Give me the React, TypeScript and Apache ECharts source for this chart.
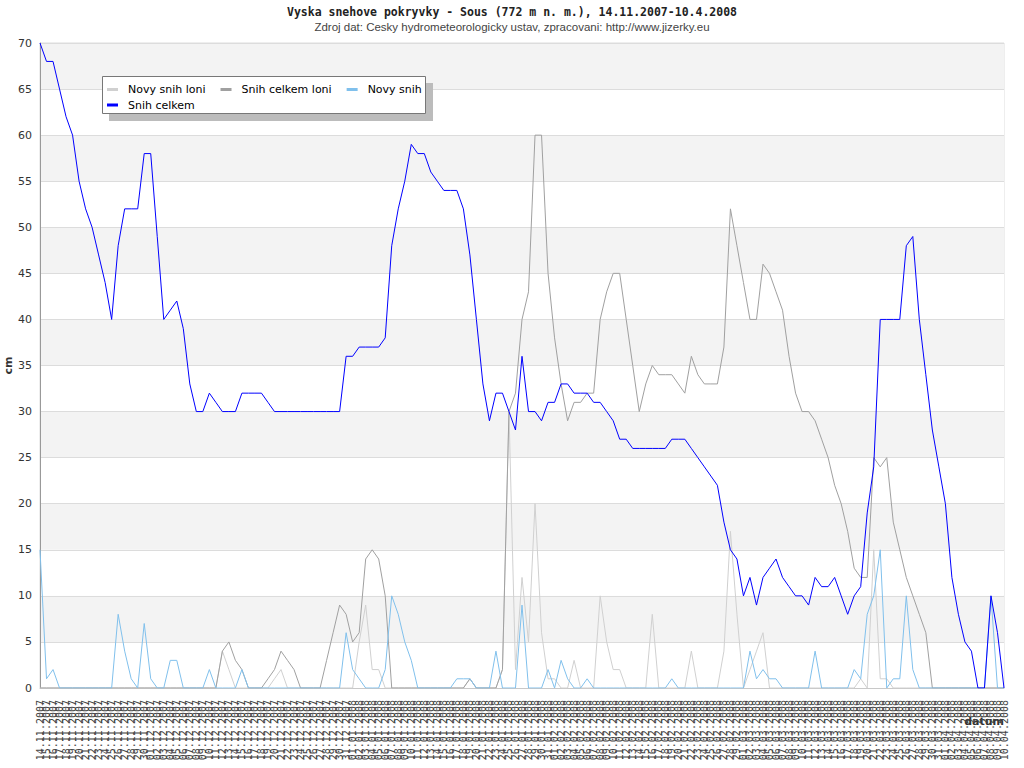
import React, { useEffect, useRef } from 'react';
import * as echarts from 'echarts';

const TITLE = 'Vyska snehove pokryvky - Sous (772 m n. m.), 14.11.2007-10.4.2008';
const SUBTITLE = 'Zdroj dat: Cesky hydrometeorologicky ustav, zpracovani: http://www.jizerky.eu';

// Category axis: consecutive days 14.11.2007 .. 10.4.2008
const FIRST_DAY = Date.UTC(2007, 10, 14);
const DAY_COUNT = 149;
const pad2 = (n: number) => (n < 10 ? '0' + n : '' + n);
const dates: string[] = [];
for (let i = 0; i < DAY_COUNT; i++) {
  const d = new Date(FIRST_DAY + i * 86400000);
  dates.push(pad2(d.getUTCDate()) + '.' + pad2(d.getUTCMonth() + 1) + '.' + d.getUTCFullYear());
}

// Snih celkem (cm)
const snihCelkem = [
  70, 68, 68, 65, 62, 60, 55, 52, 50, 47,
  44, 40, 48, 52, 52, 52, 58, 58, 49, 40,
  41, 42, 39, 33, 30, 30, 32, 31, 30, 30,
  30, 32, 32, 32, 32, 31, 30, 30, 30, 30,
  30, 30, 30, 30, 30, 30, 30, 36, 36, 37,
  37, 37, 37, 38, 48, 52, 55, 59, 58, 58,
  56, 55, 54, 54, 54, 52, 47, 40, 33, 29,
  32, 32, 30, 28, 36, 30, 30, 29, 31, 31,
  33, 33, 32, 32, 32, 31, 31, 30, 29, 27,
  27, 26, 26, 26, 26, 26, 26, 27, 27, 27,
  26, 25, 24, 23, 22, 18, 15, 14, 10, 12,
  9, 12, 13, 14, 12, 11, 10, 10, 9, 12,
  11, 11, 12, 10, 8, 10, 11, 19, 24, 40,
  40, 40, 40, 48, 49, 40, 34, 28, 24, 20,
  12, 8, 5, 4, 0, 0, 10, 6, 0,
];

// Snih celkem loni (cm)
const snihCelkemLoni = [
  0, 0, 0, 0, 0, 0, 0, 0, 0, 0,
  0, 0, 0, 0, 0, 0, 0, 0, 0, 0,
  0, 0, 0, 0, 0, 0, 0, 0, 4, 5,
  3, 2, 0, 0, 0, 1, 2, 4, 3, 2,
  0, 0, 0, 0, 3, 6, 9, 8, 5, 6,
  14, 15, 14, 10, 0, 0, 0, 0, 0, 0,
  0, 0, 0, 0, 0, 0, 1, 0, 0, 0,
  0, 2, 30, 32, 40, 43, 60, 60, 45, 38,
  33, 29, 31, 31, 32, 32, 40, 43, 45, 45,
  40, 35, 30, 33, 35, 34, 34, 34, 33, 32,
  36, 34, 33, 33, 33, 37, 52, 48, 44, 40,
  40, 46, 45, 43, 41, 36, 32, 30, 30, 29,
  27, 25, 22, 20, 17, 13, 12, 12, 25, 24,
  25, 18, 15, 12, 10, 8, 6, 0, 0, 0,
  0, 0, 0, 0, 0, 0, 0, 0, 0,
];

// Novy snih loni (cm)
const novySnihLoni = [
  0, 0, 0, 0, 0, 0, 0, 0, 0, 0,
  0, 0, 0, 0, 0, 0, 0, 0, 0, 0,
  0, 0, 0, 0, 0, 0, 0, 0, 4, 2,
  0, 0, 0, 0, 0, 0, 1, 2, 0, 0,
  0, 0, 0, 0, 0, 0, 0, 0, 0, 5,
  9, 2, 2, 0, 0, 0, 0, 0, 0, 0,
  0, 0, 0, 0, 0, 0, 1, 0, 0, 0,
  0, 2, 30, 2, 12, 5, 20, 6, 1, 1,
  0, 0, 3, 0, 0, 0, 10, 5, 2, 2,
  0, 0, 0, 0, 8, 0, 0, 0, 0, 0,
  4, 0, 0, 0, 0, 4, 17, 8, 0, 2,
  4, 6, 0, 0, 0, 0, 0, 0, 0, 0,
  0, 0, 0, 0, 0, 0, 1, 0, 15, 1,
  1, 0, 0, 0, 0, 0, 0, 0, 0, 0,
  0, 0, 0, 0, 0, 0, 0, 0, 0,
];

// Novy snih (cm)
const novySnih = [
  15, 1, 2, 0, 0, 0, 0, 0, 0, 0,
  0, 0, 8, 4, 1, 0, 7, 1, 0, 0,
  3, 3, 0, 0, 0, 0, 2, 0, 0, 0,
  0, 2, 0, 0, 0, 0, 0, 0, 0, 0,
  0, 0, 0, 0, 0, 0, 0, 6, 2, 1,
  0, 0, 0, 2, 10, 8, 5, 3, 0, 0,
  0, 0, 0, 0, 1, 1, 1, 0, 0, 0,
  4, 0, 0, 0, 9, 0, 0, 0, 2, 0,
  3, 1, 0, 0, 1, 0, 0, 0, 0, 0,
  0, 0, 0, 0, 0, 0, 0, 1, 0, 0,
  0, 0, 0, 0, 0, 0, 0, 0, 0, 4,
  1, 2, 1, 1, 0, 0, 0, 0, 0, 4,
  0, 0, 0, 0, 0, 2, 1, 8, 10, 15,
  0, 1, 1, 10, 2, 0, 0, 0, 0, 0,
  0, 0, 0, 0, 0, 0, 10, 0, 0,
];

const SERIES_NAMES = ['Novy snih loni', 'Snih celkem loni', 'Novy snih', 'Snih celkem'];
const SERIES_COLORS = ['#d0d0d0', '#a0a0a0', '#80c0ec', '#0000ff'];

export default function App() {
  const ref = useRef<HTMLDivElement>(null);

  useEffect(() => {
    if (!ref.current) return;
    const chart = echarts.init(ref.current, null, { renderer: 'svg' });
    const legendText = {
      fontFamily: 'DejaVu Sans',
      fontSize: 11,
      color: '#000',
      padding: [0, 0, 0, 5],
    };
    const seriesData = [novySnihLoni, snihCelkemLoni, novySnih, snihCelkem];
    chart.setOption({
      animation: false,
      backgroundColor: '#ffffff',
      title: {
        text: TITLE,
        subtext: SUBTITLE,
        left: 'center',
        top: 6,
        itemGap: 3,
        padding: 0,
        textStyle: {
          fontFamily: 'DejaVu Sans Mono',
          fontWeight: 'bold',
          fontSize: 11.5,
          color: '#222',
        },
        subtextStyle: {
          fontFamily: 'Liberation Sans',
          fontSize: 11.5,
          color: '#444',
        },
      },
      legend: [
        {
          data: SERIES_NAMES.slice(0, 3),
          left: 107,
          top: 84,
          padding: 0,
          itemGap: 15,
          itemWidth: 11,
          itemHeight: 3,
          icon: 'rect',
          orient: 'horizontal',
          textStyle: legendText,
          selectedMode: false,
        },
        {
          data: SERIES_NAMES.slice(3),
          left: 107,
          top: 99.5,
          padding: 0,
          itemWidth: 11,
          itemHeight: 3,
          icon: 'rect',
          textStyle: legendText,
          selectedMode: false,
        },
      ],
      graphic: [
        {
          type: 'rect',
          z: 3,
          shape: { x: 109, y: 83, width: 324, height: 38 },
          style: { fill: '#bcbcbc' },
        },
        {
          type: 'rect',
          z: 3,
          shape: { x: 102.5, y: 76.5, width: 323, height: 37 },
          style: { fill: '#ffffff', stroke: '#777777', lineWidth: 1 },
        },
      ],
      grid: {
        left: 40,
        right: 20,
        top: 43,
        bottom: 80,
        containLabel: false,
        outerBoundsMode: 'none',
        show: true,
        borderColor: '#dddddd',
        borderWidth: 1,
        backgroundColor: 'transparent',
      },
      xAxis: {
        type: 'category',
        data: dates,
        boundaryGap: false,
        name: 'datum',
        nameLocation: 'end',
        nameGap: 0,
        nameMoveOverlap: false,
        nameTextStyle: {
          fontFamily: 'DejaVu Sans',
          fontWeight: 'bold',
          fontSize: 11,
          color: '#333',
          align: 'right',
          verticalAlign: 'top',
          padding: [28, 0, 0, 0],
        },
        axisLine: { show: true, lineStyle: { color: '#c8c8c8', width: 1 } },
        axisTick: { show: false },
        splitLine: { show: false },
        axisLabel: {
          interval: 0,
          rotate: 90,
          margin: 12,
          fontFamily: 'DejaVu Sans Mono',
          fontSize: 10,
          color: '#444',
        },
      },
      yAxis: {
        type: 'value',
        min: 0,
        max: 70,
        interval: 5,
        name: 'cm',
        nameLocation: 'middle',
        nameGap: 26,
        nameMoveOverlap: false,
        nameTextStyle: {
          fontFamily: 'DejaVu Sans',
          fontWeight: 'bold',
          fontSize: 11,
          color: '#333',
        },
        axisLine: { show: true, lineStyle: { color: '#999999', width: 1 } },
        axisTick: { show: false },
        axisLabel: {
          margin: 8,
          fontFamily: 'DejaVu Sans',
          fontSize: 11,
          color: '#333',
        },
        splitLine: { show: true, lineStyle: { color: '#dcdcdc', width: 1 } },
        splitArea: { show: true, areaStyle: { color: ['#ffffff', '#f3f3f3'] } },
      },
      series: SERIES_NAMES.map((name, idx) => ({
        name,
        type: 'line',
        data: seriesData[idx],
        symbol: 'none',
        showSymbol: false,
        color: SERIES_COLORS[idx],
        lineStyle: { color: SERIES_COLORS[idx], width: 1 },
        emphasis: { disabled: true },
        z: 2 + idx * 0.1,
      })),
    });
    return () => chart.dispose();
  }, []);

  return (
    <div
      ref={ref}
      style={{ position: 'fixed', left: 0, top: 0, width: 1024, height: 768, background: '#fff' }}
    />
  );
}
